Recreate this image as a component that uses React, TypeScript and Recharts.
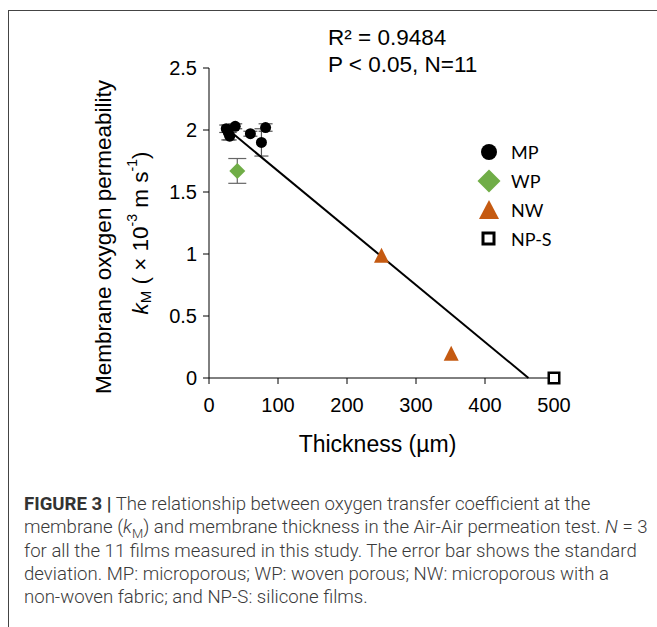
import React from "react";
import {
  ScatterChart, Scatter, XAxis, YAxis, ErrorBar, Label,
} from "recharts";

// thickness (µm) / k_M (x10^-3 m s^-1) / standard deviation
const mpThickness = [25, 28, 30, 38, 60, 76, 82];
const mpKm = [2.01, 1.98, 1.95, 2.03, 1.97, 1.9, 2.02];
const mpErr = [0.03, 0.06, 0.03, 0.02, 0.02, 0.11, 0.03];

const wpThickness = [41];
const wpKm = [1.67];
const wpErr = [0.1];

const nwThickness = [250, 351];
const nwKm = [0.99, 0.2];
const nwErr = [0.02, 0.02];

const npsThickness = [500];
const npsKm = [0];
const npsErr = [0];

// linear fit
const trendSlope = -0.0046;
const trendIntercept = 2.13;
const trendRange = [28, 463];

const xTicks = [0, 100, 200, 300, 400, 500];
const yTicks = [0, 0.5, 1, 1.5, 2, 2.5];

const legendItems = ["MP", "WP", "NW", "NP-S"];

const toPoints = (xs: number[], ys: number[], errs: number[]) =>
  xs.map((x, i) => ({ x, y: ys[i], err: errs[i] }));

const mpData = toPoints(mpThickness, mpKm, mpErr);
const wpData = toPoints(wpThickness, wpKm, wpErr);
const nwData = toPoints(nwThickness, nwKm, nwErr);
const npsData = toPoints(npsThickness, npsKm, npsErr);
const trendData = trendRange.map((x) => ({ x, y: trendIntercept + trendSlope * x }));

const ARIAL = "'Liberation Sans', Arial, sans-serif";
const GREEN = "#70ad47";
const ORANGE = "#c55a11";

const CircleMark = (p: any) => <circle cx={p.cx} cy={p.cy} r={5.5} fill="#000" />;
const DiamondMark = (p: any) => {
  const h = 8;
  return (
    <polygon
      points={`${p.cx},${p.cy - h} ${p.cx + h},${p.cy} ${p.cx},${p.cy + h} ${p.cx - h},${p.cy}`}
      fill={GREEN}
    />
  );
};
const TriangleMark = (p: any) => {
  const h = 7.5;
  return (
    <polygon
      points={`${p.cx},${p.cy - h} ${p.cx + h},${p.cy + h} ${p.cx - h},${p.cy + h}`}
      fill={ORANGE}
    />
  );
};
const SquareMark = (p: any) => (
  <rect x={p.cx - 5.25} y={p.cy - 5.25} width={10.5} height={10.5} fill="#fff" stroke="#000" strokeWidth={2.5} />
);
const NoMark = () => <g />;

function LegendIcon({ name }: { name: string }) {
  return (
    <svg width={24} height={24} style={{ display: "block" }}>
      {name === "MP" && <circle cx={12} cy={12} r={8} fill="#000" />}
      {name === "WP" && <polygon points="12,0.5 23.5,12 12,23.5 0.5,12" fill={GREEN} />}
      {name === "NW" && <polygon points="12,2 22,21 2,21" fill={ORANGE} />}
      {name === "NP-S" && <rect x={6} y={6} width={11} height={11} fill="#fff" stroke="#000" strokeWidth={3} />}
    </svg>
  );
}

function YTitle({ viewBox }: any) {
  const cy = viewBox.y + viewBox.height / 2 + 14;
  const x1 = viewBox.x - 46;
  const x2 = viewBox.x - 9;
  return (
    <g fontFamily={ARIAL} fontSize={22.5} fill="#000">
      <text x={x1} y={cy} textAnchor="middle" dominantBaseline="central" transform={`rotate(-90 ${x1} ${cy})`}>
        Membrane oxygen permeability
      </text>
      <text x={x2} y={cy - 4} textAnchor="middle" dominantBaseline="central" transform={`rotate(-90 ${x2} ${cy - 4})`}>
        <tspan fontStyle="italic">k</tspan>
        <tspan fontSize={15} dy={5}>M</tspan>
        <tspan dy={-5}>{" ( \u00d7 10"}</tspan>
        <tspan fontSize={14} dy={-8}>-3</tspan>
        <tspan dy={8}>{" m s"}</tspan>
        <tspan fontSize={14} dy={-8}>-1</tspan>
        <tspan dy={8}>)</tspan>
      </text>
    </g>
  );
}

function XTitle({ viewBox }: any) {
  return (
    <text x={viewBox.x + viewBox.width / 2 - 4} y={viewBox.y + 74} textAnchor="middle" fontFamily={ARIAL} fontSize={23} fill="#000">
      Thickness (µm)
    </text>
  );
}

export default function App() {
  return (
    <div style={{ position: "fixed", left: 0, top: 0, width: 657, height: 627, overflow: "hidden", background: "#fff" }}>
      <div style={{ position: "absolute", left: 8, top: 10, width: 800, height: 800, borderLeft: "1.5px solid #444", borderTop: "1.5px solid #444" }} />

      <div style={{ position: "absolute", left: 0, top: 0 }}>
        <ScatterChart width={657} height={470} margin={{ top: 68, right: 103, bottom: 62, left: 149 }}>
          <XAxis
            type="number" dataKey="x" domain={[0, 500]} ticks={xTicks} height={30}
            axisLine={{ stroke: "#000" }} tickLine={{ stroke: "#000" }} tickSize={6} tickMargin={14}
            tick={{ fill: "#000", fontSize: 20, fontFamily: ARIAL }} interval={0}
          >
            <Label content={<XTitle />} />
          </XAxis>
          <YAxis
            type="number" dataKey="y" domain={[0, 2.5]} ticks={yTicks} width={60}
            axisLine={{ stroke: "#000" }} tickLine={{ stroke: "#000" }} tickSize={6} tickMargin={6}
            tick={{ fill: "#000", fontSize: 20, fontFamily: ARIAL }} interval={0}
          >
            <Label content={<YTitle />} />
          </YAxis>
          <Scatter data={trendData} line={{ stroke: "#000", strokeWidth: 2 }} shape={NoMark} isAnimationActive={false} />
          <Scatter data={mpData} shape={CircleMark} isAnimationActive={false}>
            <ErrorBar dataKey="err" direction="y" width={7} stroke="#555" strokeWidth={1.2} />
          </Scatter>
          <Scatter data={wpData} shape={DiamondMark} isAnimationActive={false}>
            <ErrorBar dataKey="err" direction="y" width={9} stroke="#666" strokeWidth={1.2} />
          </Scatter>
          <Scatter data={nwData} shape={TriangleMark} isAnimationActive={false} />
          <Scatter data={npsData} shape={SquareMark} isAnimationActive={false} />
        </ScatterChart>
      </div>

      <div style={{ position: "absolute", left: 328, top: 24, fontFamily: ARIAL, fontSize: 22.5, lineHeight: "27px", color: "#000", whiteSpace: "nowrap" }}>
        <div>R² = 0.9484</div>
        <div>P &lt; 0.05, N=11</div>
      </div>

      <div style={{ position: "absolute", left: 477, top: 137 }}>
        {legendItems.map((name) => (
          <div key={name} style={{ display: "flex", alignItems: "center", height: 29 }}>
            <LegendIcon name={name} />
            <span style={{ marginLeft: 10, fontFamily: "Lato, 'Open Sans', sans-serif", fontSize: 18, color: "#000" }}>{name}</span>
          </div>
        ))}
      </div>

      <div style={{ position: "absolute", left: 24, top: 493, fontFamily: "Roboto, 'Liberation Sans', sans-serif", fontSize: 18.6, lineHeight: "23.3px", color: "#3a3a3a", whiteSpace: "nowrap", fontWeight: 300 }}>
        <b style={{ fontWeight: 700, color: "#333" }}>FIGURE 3 |</b> The relationship between oxygen transfer coefficient at the<br />
        membrane (<i>k</i><sub style={{ fontSize: 13, lineHeight: 0 }}>M</sub>) and membrane thickness in the Air-Air permeation test. <i>N</i> = 3<br />
        for all the 11 films measured in this study. The error bar shows the standard<br />
        deviation. MP: microporous; WP: woven porous; NW: microporous with a<br />
        non-woven fabric; and NP-S: silicone films.
      </div>
    </div>
  );
}
